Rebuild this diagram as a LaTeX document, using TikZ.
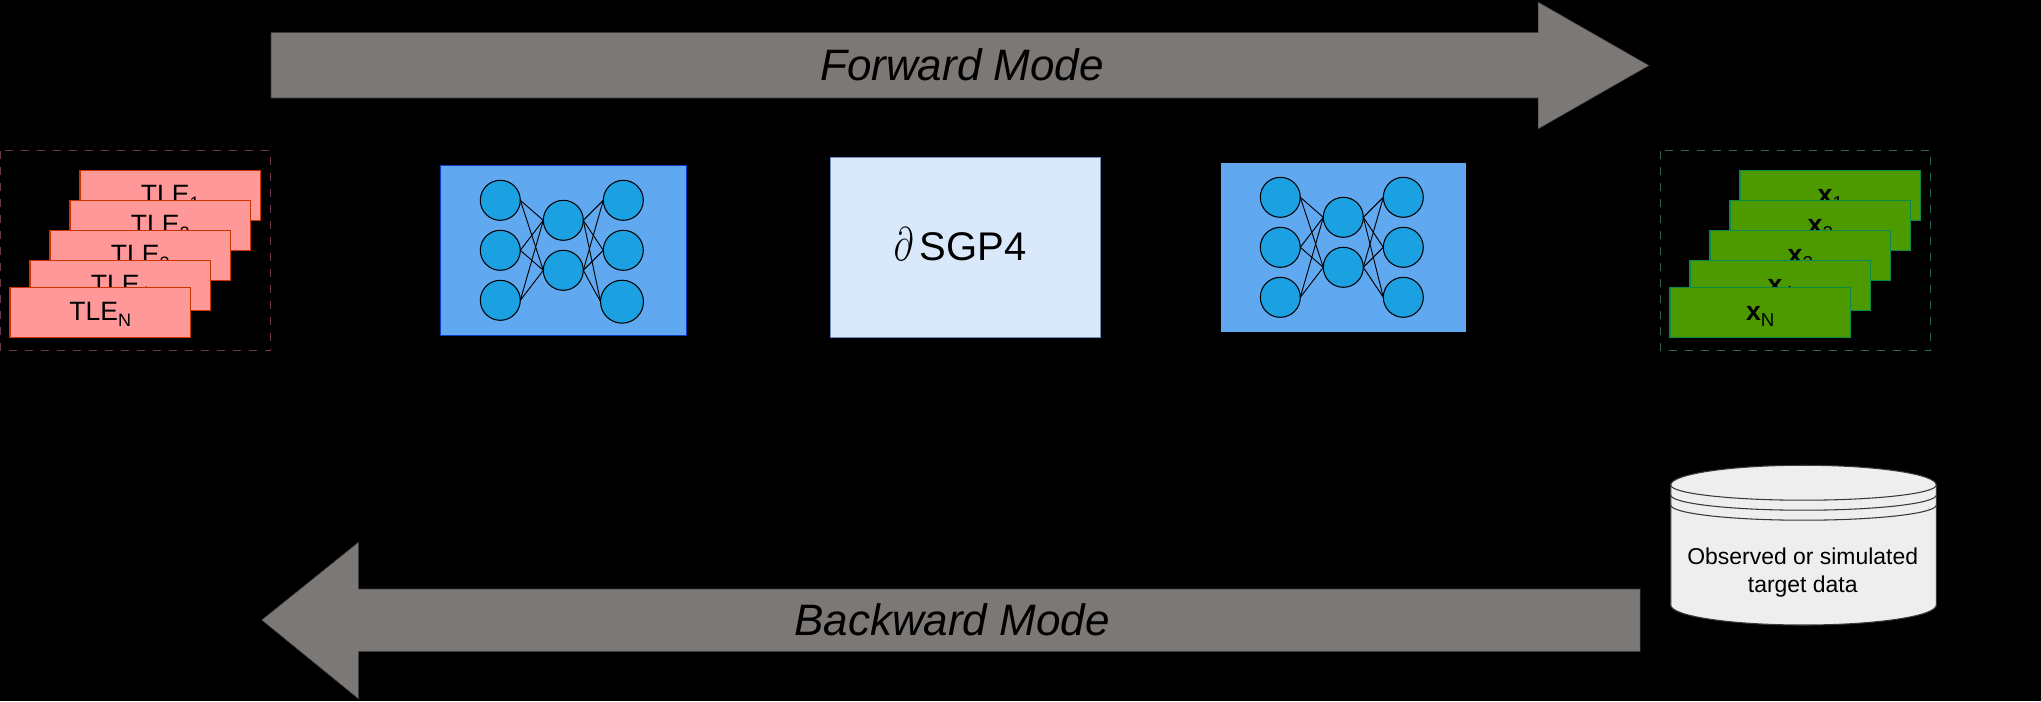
\documentclass[tikz,border=0pt]{standalone}
\usepackage{fontspec}
\usepackage{graphicx}
\setmainfont{Liberation Sans}
\newcommand{\pxfont}[1]{\fontsize{#1}{#1}\selectfont}
\newcommand{\tlelab}[1]{\pxfont{19.9}TLE\raisebox{-4.5pt}{\pxfont{13.5}#1}}
\newcommand{\xlab}[1]{\pxfont{20}\textbf{x}\raisebox{-4.5pt}{\pxfont{14}#1}}
\definecolor{tlefill}{HTML}{FF9999}
\definecolor{tleline}{HTML}{CC3300}
\definecolor{tledash}{HTML}{6B3A45}
\definecolor{xfill}{HTML}{4D9900}
\definecolor{xline}{HTML}{0B8A4A}
\definecolor{xdash}{HTML}{2F6650}
\definecolor{nnfill}{HTML}{60A9F0}
\definecolor{nnline}{HTML}{0D3CC4}
\definecolor{cellfill}{HTML}{1BA1E2}
\definecolor{sgpfill}{HTML}{DAE8FC}
\definecolor{sgpline}{HTML}{6C8EBF}
\definecolor{arrowfill}{HTML}{7C7876}
\definecolor{arrowline}{HTML}{36393D}
\definecolor{storefill}{HTML}{EEEEEE}
\tikzset{
  x=0.75pt,y=-0.75pt,
  every node/.style={outer sep=0pt,inner sep=0pt},
  stackbox/.style={anchor=north west,draw,line width=0.9pt,minimum width=135.4pt,minimum height=37.9pt,align=center,text height=16.5pt,text depth=4.5pt},
  tlebox/.style={stackbox,fill=tlefill,draw=tleline},
  xbox/.style={stackbox,fill=xfill,draw=xline},
  groupframe/.style={line width=1pt,dash pattern=on 6pt off 6pt},
  nnbox/.style={anchor=north west,fill=nnfill},
  cell/.style={circle,draw=black,fill=cellfill,line width=0.8pt,minimum size=30pt},
  wire/.style={draw=black,line width=0.7pt},
  bigarrow/.style={fill=arrowfill,draw=arrowline,line width=0.4pt},
  modelabel/.style={anchor=base,font=\itshape\pxfont{33}},
  storeline/.style={draw=arrowline,line width=0.8pt},
}
\begin{document}
\begin{tikzpicture}
\useasboundingbox (0,0) rectangle (2041,701);
\fill[black] (0,0) rectangle (2041,701);

% forward arrow
\path[bigarrow] (271,32.5) -- (1538,32.5) -- (1538,2) -- (1649,65.5) -- (1538,129) -- (1538,98) -- (271,98) -- cycle;
\node[modelabel] (fwd) at (962,80) {Forward Mode};

% backward arrow
\path[bigarrow] (1640,589) -- (358.7,589) -- (358.7,542) -- (261.7,620) -- (358.7,699) -- (358.7,651.7) -- (1640,651.7) -- cycle;
\node[modelabel] (bwd) at (952,635) {Backward Mode};

% TLE stack
\draw[groupframe,draw=tledash] (0.5,150.5) rectangle (270.5,350.5);
\node[tlebox] (tle1) at (80,170.3) {\tlelab{1}};
\node[tlebox] (tle2) at (70,200.3) {\tlelab{2}};
\node[tlebox] (tle3) at (50,230.3) {\tlelab{3}};
\node[tlebox] (tle4) at (30,260.3) {\tlelab{4}};
\node[tlebox] (tleN) at (10,287.3) {\tlelab{N}};

% first network
\node[nnbox,draw=nnline,line width=1pt,minimum width=184.8pt,minimum height=127.5pt] (nnA) at (440.3,165.3) {};
\node[cell] (aL1) at (500.3,200.3) {};
\node[cell] (aL2) at (500.3,250.3) {};
\node[cell] (aL3) at (500.3,300.3) {};
\node[cell] (aM1) at (563.3,220.3) {};
\node[cell] (aM2) at (563.3,270.3) {};
\node[cell] (aR1) at (623.3,200.3) {};
\node[cell] (aR2) at (623.3,250.3) {};
\node[cell,minimum size=32.2pt] (aR3) at (622,301.7) {};
\foreach \l in {1,2,3}\foreach \m in {1,2}{
  \draw[wire] (aL\l.east) -- (aM\m.west);
  \draw[wire] (aM\m.east) -- (aR\l.west);
}

% SGP4
\node[anchor=north west,draw=sgpline,fill=sgpfill,line width=1pt,minimum width=202.8pt,minimum height=135pt,text height=20pt,text depth=-3pt] (sgp) at (830.3,157.3) {\pxfont{30}\scalebox{1.02}[1.42]{$\partial$}\kern5pt SGP4\kern7.8pt};

% second network
\node[nnbox,minimum width=183.8pt,minimum height=126.8pt] (nnB) at (1221,163) {};
\node[cell] (bL1) at (1280.3,197.3) {};
\node[cell] (bL2) at (1280.3,247.3) {};
\node[cell] (bL3) at (1280.3,297.3) {};
\node[cell] (bM1) at (1343.3,217.3) {};
\node[cell] (bM2) at (1343.3,267.3) {};
\node[cell] (bR1) at (1403.3,197.3) {};
\node[cell] (bR2) at (1403.3,247.3) {};
\node[cell] (bR3) at (1403.3,297.3) {};
\foreach \l in {1,2,3}\foreach \m in {1,2}{
  \draw[wire] (bL\l.east) -- (bM\m.west);
  \draw[wire] (bM\m.east) -- (bR\l.west);
}

% output stack
\draw[groupframe,draw=xdash] (1660.5,150.5) rectangle (1930.5,350.5);
\node[xbox] (x1) at (1740,170.3) {\xlab{1}};
\node[xbox] (x2) at (1730,200.3) {\xlab{2}};
\node[xbox] (x3) at (1710,230.3) {\xlab{3}};
\node[xbox] (x4) at (1690,260.3) {\xlab{4}};
\node[xbox] (xN) at (1670,287.3) {\xlab{N}};

% data store
\path[storeline,fill=storefill] (1670.7,485)
  arc[start angle=180,end angle=0,x radius=99.6pt,y radius=14.8pt]
  -- (1936.3,605)
  arc[start angle=0,end angle=-180,x radius=99.6pt,y radius=15pt]
  -- cycle;
\path[storeline] (1670.7,485) arc[start angle=180,end angle=360,x radius=99.6pt,y radius=11.4pt];
\path[storeline] (1670.7,495) arc[start angle=180,end angle=360,x radius=99.6pt,y radius=11.4pt];
\path[storeline] (1670.7,505) arc[start angle=180,end angle=360,x radius=99.6pt,y radius=11.4pt];
\node[anchor=base,align=center,font=\fontsize{17.2}{20.8}\selectfont] (store) at (1802.7,592.7) {Observed or simulated\\target data};
\end{tikzpicture}
\end{document}
